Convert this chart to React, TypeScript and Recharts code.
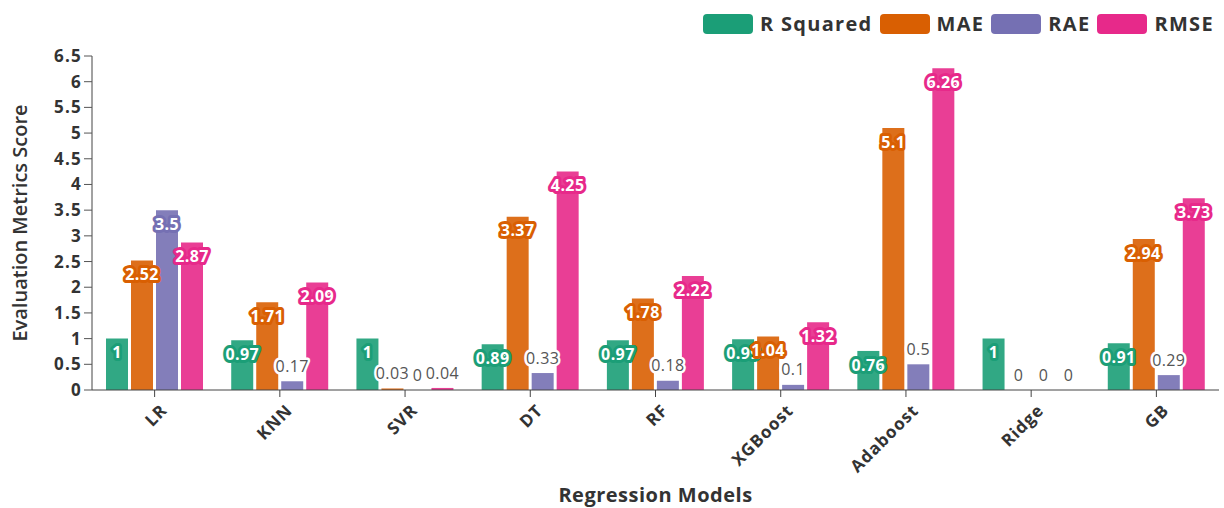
import React from "react";
import {
  Bar,
  BarChart,
  LabelList,
  Legend,
  XAxis,
  YAxis,
} from "recharts";

// Regression models compared
const models = ["LR", "KNN", "SVR", "DT", "RF", "XGBoost", "Adaboost", "Ridge", "GB"];

// Evaluation metric scores per model
const rSquared = [1, 0.97, 1, 0.89, 0.97, 0.99, 0.76, 1, 0.91];
const mae = [2.52, 1.71, 0.03, 3.37, 1.78, 1.04, 5.1, 0, 2.94];
const rae = [3.5, 0.17, 0, 0.33, 0.18, 0.1, 0.5, 0, 0.29];
const rmse = [2.87, 2.09, 0.04, 4.25, 2.22, 1.32, 6.26, 0, 3.73];

const yTicks = [0, 0.5, 1, 1.5, 2, 2.5, 3, 3.5, 4, 4.5, 5, 5.5, 6, 6.5];

const SERIES = [
  { key: "r2", name: "R Squared", color: "#1b9e77" },
  { key: "mae", name: "MAE", color: "#d95f02" },
  { key: "rae", name: "RAE", color: "#7570b3" },
  { key: "rmse", name: "RMSE", color: "#e7298a" },
];

const FONT = "'Open Sans', 'Noto Sans', sans-serif";

const data = models.map((model, i) => ({
  model,
  r2: rSquared[i],
  mae: mae[i],
  rae: rae[i],
  rmse: rmse[i],
}));

// value label: inside the bar top on a coloured halo, or above short bars in grey
const makeLabel = (color: string) => (props: any) => {
  const { x, y, width, height, value } = props;
  const cx = Number(x) + Number(width) / 2;
  const h = Math.abs(Number(height) || 0);
  const top = Math.min(Number(y), Number(y) + (Number(height) || 0));
  const inside = h >= 30;
  const ty = inside ? top + 14 : top - 15;
  return (
    <text
      x={cx}
      y={ty}
      dy="0.35em"
      textAnchor="middle"
      fontFamily={FONT}
      fontSize={16}
      fontWeight={inside ? 700 : 500}
      letterSpacing={0.4}
      fill={inside ? "#ffffff" : "#555555"}
      stroke={inside ? color : "#ffffff"}
      strokeWidth={inside ? 6 : 5}
      strokeLinejoin="round"
      style={{ paintOrder: "stroke" }}
    >
      {value}
    </text>
  );
};

const XTick = (props: any) => {
  const { x, y, payload } = props;
  return (
    <g transform={`translate(${x + 5},${y + 4})`}>
      <text
        x={0}
        y={0}
        dy="0.71em"
        textAnchor="end"
        transform="rotate(-45)"
        fontFamily={FONT}
        fontSize={17}
        fontWeight={700}
        letterSpacing={0.9}
        fill="#333333"
      >
        {payload.value}
      </text>
    </g>
  );
};

const renderLegend = () => (
  <div style={{ display: "flex", alignItems: "center", fontFamily: FONT }}>
    {SERIES.map((s) => (
      <div key={s.key} style={{ display: "flex", alignItems: "center", marginRight: 7 }}>
        <div
          style={{
            width: 50,
            height: 20,
            borderRadius: 4,
            background: s.color,
            marginRight: 7,
          }}
        />
        <span style={{ fontSize: 20, fontWeight: 700, color: "#333", letterSpacing: 1.3 }}>
          {s.name}
        </span>
      </div>
    ))}
  </div>
);

export default function App() {
  return (
    <div style={{ position: "absolute", left: 0, top: 0, background: "#fff" }}>
      <BarChart
        width={1224}
        height={508}
        data={data}
        margin={{ top: 56, right: 5, bottom: 0, left: 0 }}
        barCategoryGap={14}
        barGap={3}
      >
        <XAxis
          dataKey="model"
          height={118}
          tick={<XTick />}
          tickSize={7}
          axisLine={{ stroke: "#444" }}
          tickLine={{ stroke: "#444" }}
          label={{
            value: "Regression Models",
            position: "insideBottom",
            offset: 6,
            style: { fontFamily: FONT, fontSize: 20, fontWeight: 700, fill: "#333", letterSpacing: 0.5 },
          }}
        />
        <YAxis
          width={92}
          domain={[0, 6.5]}
          ticks={yTicks}
          interval={0}
          tickSize={8}
          axisLine={{ stroke: "#444" }}
          tickLine={{ stroke: "#555" }}
          tick={{ fontFamily: FONT, fontSize: 17, fontWeight: 700, fill: "#333", letterSpacing: 1.2 }}
          label={{
            value: "Evaluation Metrics Score",
            angle: -90,
            position: "insideLeft",
            offset: 20,
            style: { textAnchor: "middle", fontFamily: FONT, fontSize: 20, fontWeight: 600, fill: "#333" },
          }}
        />
        <Legend
          layout="horizontal"
          verticalAlign="middle"
          align="center"
          content={renderLegend}
          wrapperStyle={{ top: 10, left: 703, width: 521, height: 24 }}
        />
        {SERIES.map((s) => (
          <Bar
            key={s.key}
            dataKey={s.key}
            name={s.name}
            fill={s.color}
            fillOpacity={0.9}
            minPointSize={(v: number) => (v === 0 ? 0.01 : 0)}
            isAnimationActive={false}
          >
            <LabelList dataKey={s.key} content={makeLabel(s.color)} />
          </Bar>
        ))}
      </BarChart>
    </div>
  );
}
